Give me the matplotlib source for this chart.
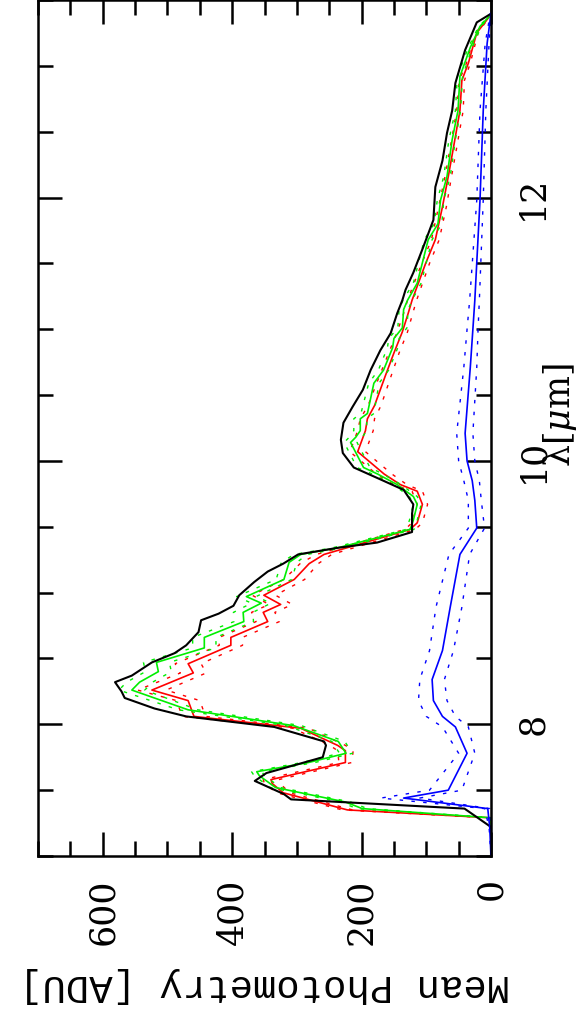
import numpy as np
import matplotlib
matplotlib.use("Agg")
import matplotlib.pyplot as plt
from matplotlib.ticker import MultipleLocator

# ---- data read off the (rotated) reference ----
# wavelength [um] and mean photometry [ADU]
lam_black = [7.00, 7.20, 7.22, 7.36, 7.43, 7.47, 7.57, 7.63, 7.75, 7.84,
             7.87, 7.98, 8.06, 8.12, 8.20, 8.25, 8.32, 8.37, 8.47, 8.54,
             8.60, 8.70, 8.79, 8.84, 8.90, 8.98, 9.08, 9.16, 9.22, 9.29,
             9.34, 9.38, 9.46, 9.60, 9.67, 9.78, 9.86, 9.95, 10.06, 10.16,
             10.29, 10.41, 10.54, 10.69, 10.84, 10.97, 11.12, 11.22, 11.30, 11.43,
             11.62, 11.83, 12.08, 12.28, 12.49, 12.66, 12.87, 13.12, 13.33, 13.39]
phot_black = [0, 0, 0, 41, 309, 320, 365, 347, 260, 255,
              258, 335, 471, 520, 566, 571, 581, 555, 524, 489,
              471, 452, 448, 421, 398, 389, 366, 345, 321, 298,
              237, 176, 122, 122, 120, 135, 171, 212, 229, 232,
              228, 214, 198, 186, 171, 155, 145, 137, 132, 120,
              105, 89, 86, 75, 68, 60, 55, 40, 22, 2]

lam_green = [7.00, 7.25, 7.29, 7.36, 7.41, 7.52, 7.61, 7.64, 7.71, 7.78,
             7.87, 7.99, 8.11, 8.26, 8.32, 8.40, 8.47, 8.58, 8.66, 8.78,
             8.85, 8.92, 8.97, 9.10, 9.23, 9.29, 9.34, 9.48, 9.55, 9.67,
             9.73, 9.82, 9.90, 9.95, 10.14, 10.18, 10.23, 10.32, 10.36, 10.59,
             10.69, 10.86, 10.93, 11.01, 11.15, 11.22, 11.35, 11.68, 11.80, 11.98,
             12.16, 12.44, 12.66, 12.92, 13.14, 13.30, 13.39]
phot_green = [0, 0, 0, 199, 225, 333, 358, 362, 282, 224,
              236, 305, 468, 555, 543, 514, 517, 443, 443, 382,
              383, 355, 378, 320, 312, 294, 237, 125, 120, 114,
              120, 145, 175, 197, 217, 209, 202, 202, 191, 181,
              166, 152, 150, 137, 135, 129, 114, 97, 82, 78,
              68, 60, 51, 48, 32, 17, 0]
green_hi = [0, 0, 0, 207, 233, 341, 366, 370, 292, 234,
            246, 317, 483, 575, 563, 534, 537, 461, 461, 397,
            398, 370, 393, 332, 324, 304, 245, 131, 126, 120,
            126, 151, 183, 207, 227, 219, 212, 212, 201, 189,
            174, 160, 158, 144, 142, 136, 120, 103, 88, 83,
            73, 65, 55, 52, 35, 19, 0]
green_lo = [0, 0, 0, 191, 217, 325, 350, 354, 272, 214,
            226, 293, 453, 535, 523, 494, 497, 425, 425, 367,
            368, 340, 363, 308, 300, 284, 229, 119, 114, 108,
            114, 139, 167, 187, 207, 199, 192, 192, 181, 173,
            158, 144, 142, 130, 128, 122, 108, 91, 76, 73,
            63, 55, 47, 44, 29, 15, 0]

lam_red = [7.00, 7.25, 7.29, 7.35, 7.48, 7.55, 7.58, 7.71, 7.80, 7.84,
           7.97, 8.06, 8.18, 8.26, 8.39, 8.46, 8.60, 8.66, 8.78, 8.85,
           8.91, 8.98, 9.10, 9.22, 9.29, 9.48, 9.53, 9.67, 9.77, 9.82,
           9.90, 10.07, 10.15, 10.23, 10.32, 10.42, 10.65, 10.82, 10.98, 11.12,
           11.22, 11.50, 11.68, 11.93, 12.16, 12.38, 12.66, 12.89, 13.02, 13.25,
           13.39]
phot_red = [0, 0, 0, 222, 321, 338, 340, 225, 225, 237,
            294, 459, 468, 524, 460, 468, 402, 402, 345, 352,
            325, 351, 304, 281, 258, 125, 114, 106, 114, 140,
            165, 206, 200, 194, 191, 180, 163, 150, 137, 128,
            122, 101, 86, 75, 66, 58, 48, 45, 35, 22,
            0]
red_hi = [0, 0, 0, 230, 331, 350, 352, 235, 237, 249,
          306, 477, 486, 546, 480, 488, 420, 420, 363, 370,
          343, 369, 320, 295, 270, 133, 122, 114, 122, 150,
          177, 218, 212, 206, 202, 190, 172, 158, 145, 135,
          129, 107, 92, 81, 71, 63, 53, 49, 38, 24,
          0]
red_lo = [0, 0, 0, 214, 311, 326, 328, 215, 213, 225,
          282, 441, 450, 502, 440, 448, 384, 384, 327, 334,
          307, 333, 288, 267, 246, 117, 106, 98, 106, 130,
          153, 194, 188, 182, 180, 170, 154, 142, 129, 121,
          115, 95, 80, 69, 61, 53, 43, 41, 32, 20,
          0]

lam_blue = [7.00, 7.22, 7.36, 7.44, 7.50, 7.78, 7.98, 8.06, 8.18, 8.34,
            8.56, 8.89, 9.29, 9.49, 9.70, 9.85, 10.00, 10.21, 10.71, 11.00,
            11.22, 11.98, 12.66, 13.17, 13.40]
phot_blue = [0, 2, 5, 135, 66, 37, 55, 75, 89, 91,
             75, 63, 48, 22, 25, 29, 37, 40, 32, 28,
             25, 17, 12, 6, 0]
blue_hi = [0, 3, 10, 170, 95, 50, 75, 100, 112, 110,
           95, 85, 65, 35, 35, 42, 50, 53, 42, 37,
           33, 22, 17, 9, 1]
blue_lo = [0, 1, 2, 110, 45, 25, 35, 55, 68, 72,
           58, 45, 33, 10, 15, 18, 25, 28, 22, 20,
           18, 12, 8, 3, 0]

# ---- figure: the spectrum is drawn rotated (lambda runs upward) ----
fig = plt.figure(figsize=(5.78, 10.15), dpi=100)
ax = fig.add_axes([38/578, 1 - 856/1015, 453/578, 856/1015])

dot = (0, (2.5, 6))
ax.plot(red_hi, lam_red, color='#ff0000', lw=1.0, ls=dot)
ax.plot(red_lo, lam_red, color='#ff0000', lw=1.0, ls=dot)
ax.plot(phot_red, lam_red, color='#ff0000', lw=1.2)
ax.plot(green_hi, lam_green, color='#00ee00', lw=1.0, ls=dot)
ax.plot(green_lo, lam_green, color='#00ee00', lw=1.0, ls=dot)
ax.plot(phot_green, lam_green, color='#00ee00', lw=1.2)
ax.plot(phot_black, lam_black, color='black', lw=1.5)
ax.plot(blue_hi, lam_blue, color='#0000ff', lw=1.0, ls=dot)
ax.plot(blue_lo, lam_blue, color='#0000ff', lw=1.0, ls=dot)
ax.plot(phot_blue, lam_blue, color='#0000ff', lw=1.2)

ax.set_xlim(700, 0)
ax.set_ylim(7.0, 13.5)

ax.xaxis.set_major_locator(MultipleLocator(200))
ax.xaxis.set_minor_locator(MultipleLocator(50))
ax.yaxis.set_major_locator(MultipleLocator(2))
ax.yaxis.set_minor_locator(MultipleLocator(0.5))

ax.tick_params(which='both', direction='in', top=True, bottom=True,
               left=True, right=True, labelleft=False, labelright=True,
               width=1.8, color='black')
ax.tick_params(which='major', length=17)
ax.tick_params(which='minor', length=10.5)
ax.tick_params(axis='x', pad=16, labelsize=25, labelrotation=90)
ax.tick_params(axis='y', pad=18, labelsize=25, labelrotation=90)
for lab in ax.get_xticklabels():
    lab.set_family('DejaVu Serif')
    lab.set_va('top')
for lab in ax.get_yticklabels():
    lab.set_family('DejaVu Serif')
    lab.set_va('center')
for sp in ax.spines.values():
    sp.set_linewidth(1.8)

plt.rcParams['mathtext.fontset'] = 'dejavuserif'
fig.text(560/578, 1 - 415/1015, r'λ[$\mu$m]', rotation=90, ha='center',
         va='center', fontsize=25, family='DejaVu Serif')
fig.text(264.5/578, 1 - 985/1015, 'Mean Photometry [ADU]', rotation=180,
         ha='center', va='center', fontsize=28, family='Liberation Mono')

fig.savefig('out.png', dpi=100)
